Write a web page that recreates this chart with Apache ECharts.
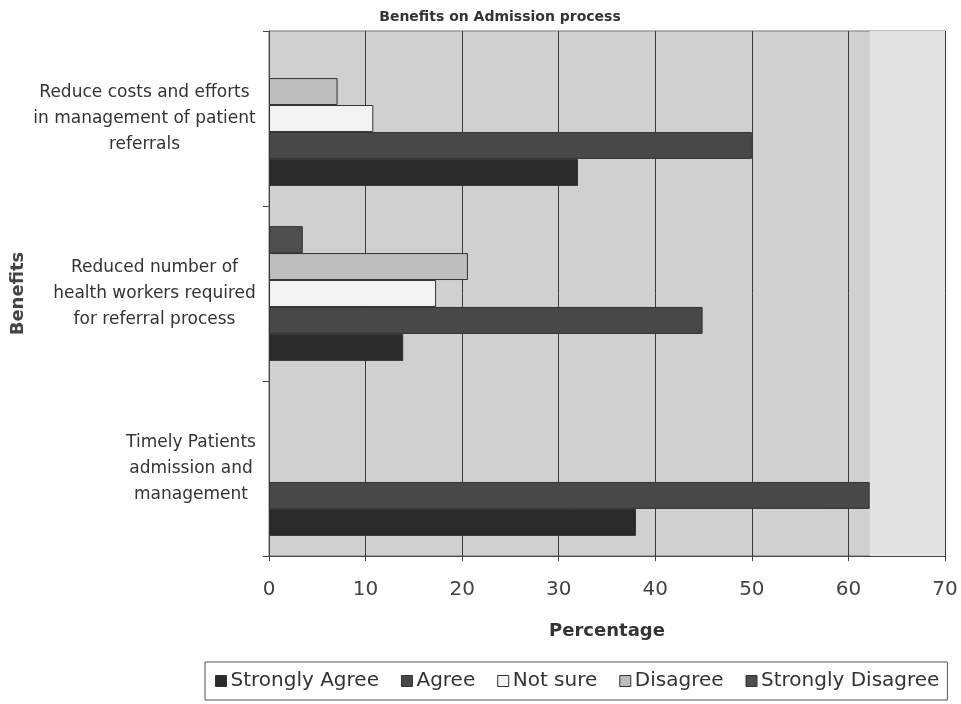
<!DOCTYPE html>
<html>
<head>
<meta charset="utf-8">
<script src="https://cdn.jsdelivr.net/npm/echarts@6/dist/echarts.min.js"></script>
<style>html,body{margin:0;padding:0;background:#fff;}#c{width:961px;height:704px;}</style>
</head>
<body>
<div id="c"></div>
<script>
// Categories listed bottom to top (as drawn)
var categories = [
  "Timely Patients\nadmission and\nmanagement",
  "Reduced number of\nhealth workers required\nfor referral process",
  "Reduce costs and efforts\nin management of patient\nreferrals"
];
var seriesNames = ["Strongly Agree", "Agree", "Not sure", "Disagree", "Strongly Disagree"];
var stronglyAgree    = [38, 13.9, 32];
var agree            = [62.2, 44.9, 50];
var notSure          = [0, 17.3, 10.8];
var disagree         = [0, 20.6, 7.1];
var stronglyDisagree = [0, 3.5, 0];
var xTicks = [0, 10, 20, 30, 40, 50, 60, 70];

var colors = ["#2a2a2a", "#484848", "#f3f3f3", "#bdbdbd", "#4e4e4e"];
var values = [stronglyAgree, agree, notSure, disagree, stronglyDisagree];

var FONT = "DejaVu Sans";
var LABEL_SIZE = 17;

// measure label lines so each multi-line label is centred on itself
var ctx = document.createElement('canvas').getContext('2d');
ctx.font = LABEL_SIZE + 'px "' + FONT + '"';
var rich = {};
categories.forEach(function (c, i) {
  var w = 0;
  c.split('\n').forEach(function (l) { w = Math.max(w, ctx.measureText(l).width); });
  rich['c' + i] = { width: Math.ceil(w), align: 'center', fontFamily: FONT, fontSize: LABEL_SIZE, lineHeight: 26, color: '#333' };
});

var chart = echarts.init(document.getElementById('c'));

var series = [];
for (var i = seriesNames.length - 1; i >= 0; i--) {
  var s = {
    name: seriesNames[i],
    type: 'bar',
    data: values[i].map(function (v) { return v === 0 ? null : v; }),
    barGap: '0%',
    barCategoryGap: '23%',
    itemStyle: { color: colors[i], borderColor: '#333', borderWidth: 1 },
    emphasis: { disabled: true },
    animation: false
  };
  if (i === 0) {
    s.markArea = {
      silent: true,
      itemStyle: { color: '#e2e2e2' },
      data: [[{ xAxis: agree[0] }, { xAxis: xTicks[xTicks.length - 1] }]]
    };
  }
  series.push(s);
}

chart.setOption({
  backgroundColor: '#ffffff',
  animation: false,
  color: colors,
  title: {
    text: 'Benefits on Admission process',
    left: 495, top: 5, textAlign: 'center',
    textStyle: { fontFamily: FONT, fontSize: 14, fontWeight: 'bold', color: '#333' }
  },
  legend: {
    data: seriesNames,
    left: 205, top: 662,
    padding: [9, 8, 9, 10],
    itemWidth: 11, itemHeight: 11, itemGap: 22,
    borderColor: '#555', borderWidth: 1,
    icon: 'rect',
    textStyle: { fontFamily: FONT, fontSize: 20, color: '#333', padding: [0, 0, 0, -1] },
    itemStyle: { borderColor: '#333', borderWidth: 1 }
  },
  grid: {
    left: 269, right: 16, top: 31, bottom: 148,
    outerBoundsMode: 'none', containLabel: false,
    show: true, backgroundColor: '#d0d0d0', borderColor: '#777', borderWidth: 1
  },
  xAxis: {
    type: 'value', min: xTicks[0], max: xTicks[xTicks.length - 1], interval: 10,
    name: 'Percentage', nameLocation: 'middle', nameGap: 66, nameMoveOverlap: false,
    nameTextStyle: { fontFamily: FONT, fontSize: 18, fontWeight: 'bold', color: '#333' },
    axisLine: { show: true, lineStyle: { color: '#444' } },
    axisTick: { show: true, length: 5, lineStyle: { color: '#444' } },
    axisLabel: { fontFamily: FONT, fontSize: 20, color: '#444', margin: 24 },
    splitLine: { show: true, lineStyle: { color: '#3a3a3a', width: 1 } }
  },
  yAxis: {
    type: 'category', data: categories,
    name: 'Benefits', nameLocation: 'middle', nameGap: 242, nameRotate: 90, nameMoveOverlap: false,
    nameTextStyle: { fontFamily: FONT, fontSize: 18, fontWeight: 'bold', color: '#444' },
    axisLine: { show: true, lineStyle: { color: '#444' } },
    axisTick: { show: true, length: 6, lineStyle: { color: '#444' } },
    axisLabel: {
      margin: 13, color: '#333',
      formatter: function (v) {
        var k = 'c' + categories.indexOf(v);
        return v.split('\n').map(function (l) { return '{' + k + '|' + l + '}'; }).join('\n');
      },
      rich: rich
    },
    splitLine: { show: false }
  },
  series: series
});
</script>
</body>
</html>
